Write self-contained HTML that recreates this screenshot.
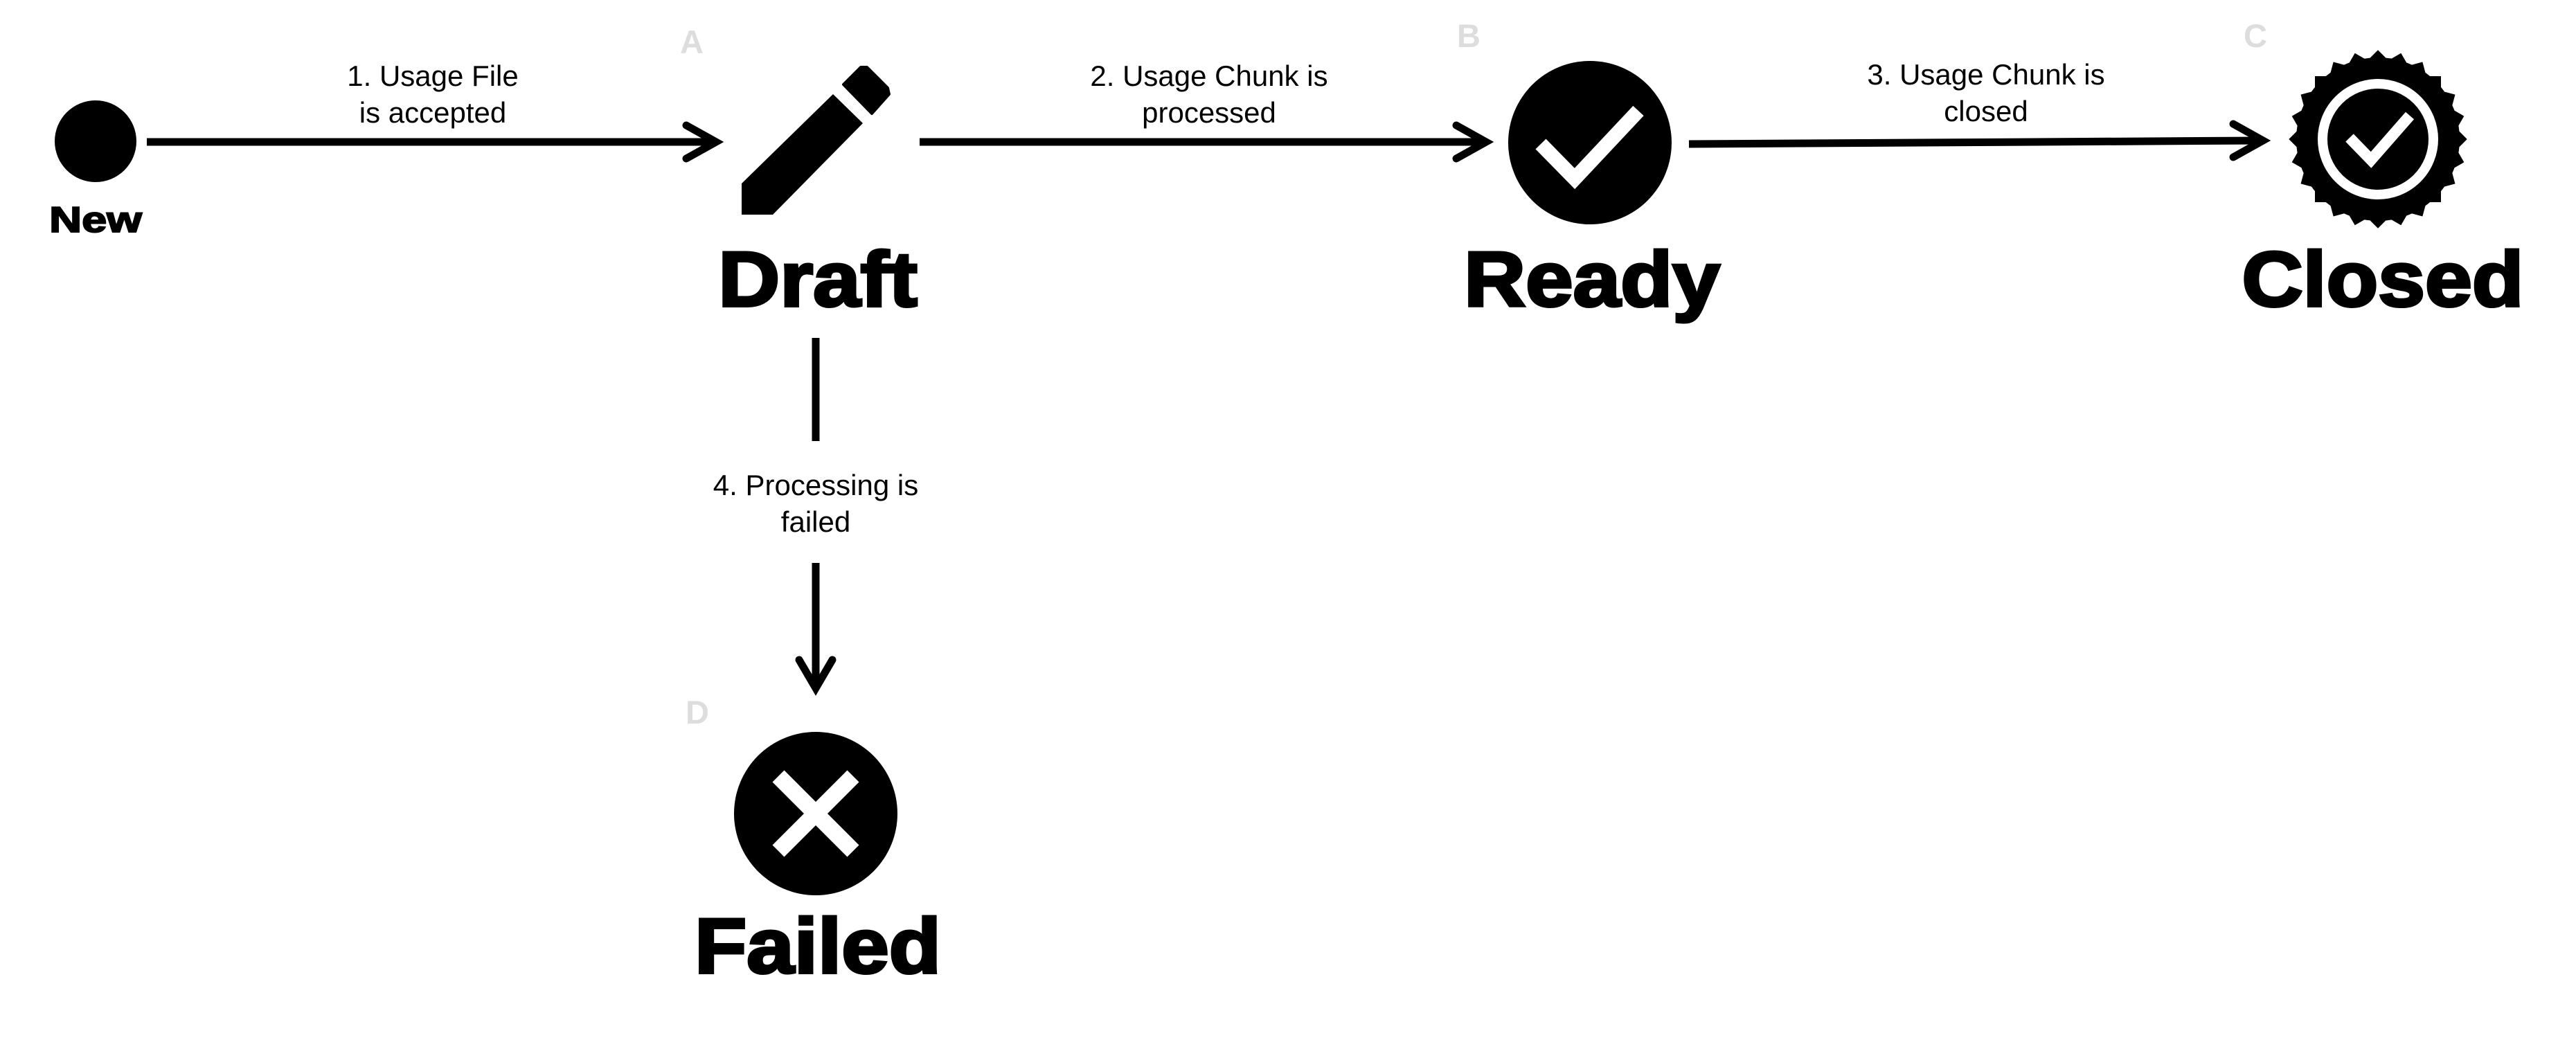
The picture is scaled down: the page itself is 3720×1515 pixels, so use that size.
<!DOCTYPE html>
<html><head><meta charset="utf-8"><style>
html,body{margin:0;padding:0;background:#fff;width:3720px;height:1515px;overflow:hidden}
</style></head><body>
<svg width="3720" height="1515" viewBox="0 0 3720 1515" xmlns="http://www.w3.org/2000/svg">
<g font-family="Liberation Sans, Arial, sans-serif">
<g fill="#dddddd" font-weight="bold" font-size="47">
<text x="982" y="77">A</text>
<text x="2104" y="68">B</text>
<text x="3240" y="68">C</text>
<text x="990" y="1045">D</text>
</g>
<circle cx="138" cy="204" r="59" fill="#000"/>
<text transform="translate(138,335) scale(1.25,1)" text-anchor="middle" font-weight="bold" font-size="52" stroke="#000" stroke-width="2">New</text>
<g stroke="#000" stroke-width="11" fill="none" stroke-linecap="round" stroke-linejoin="miter">
<line x1="212" y1="205" x2="1032" y2="205" stroke-linecap="butt"/>
<polyline points="991,181 1034,205 991,229"/>
<line x1="1328" y1="205" x2="2144" y2="205" stroke-linecap="butt"/>
<polyline points="2103,181 2146,205 2103,229"/>
<line x1="2439" y1="208" x2="3266" y2="203" stroke-linecap="butt"/>
<polyline points="3225,179 3268,203 3225,227"/>
<line x1="1178" y1="488" x2="1178" y2="637" stroke-linecap="butt"/>
<line x1="1178" y1="813" x2="1178" y2="992" stroke-linecap="butt"/>
<polyline points="1154,953 1178,994 1202,953"/>
</g>
<g font-size="42" text-anchor="middle" fill="#000">
<text x="625" y="124">1. Usage File</text>
<text x="625" y="177">is accepted</text>
<text x="1746" y="124">2. Usage Chunk is</text>
<text x="1746" y="177">processed</text>
<text x="2868" y="122">3. Usage Chunk is</text>
<text x="2868" y="175">closed</text>
<text x="1178" y="715">4. Processing is</text>
<text x="1178" y="768">failed</text>
</g>
<polygon points="1071,265 1203,136 1246,178 1116,310 1071,310" fill="#000"/>
<polygon points="1218,122 1243,97 1252,97 1282,127 1284,136 1259,164" fill="#000" stroke="#000" stroke-width="4" stroke-linejoin="round"/>
<circle cx="2296" cy="206" r="118" fill="#000"/>
<polyline points="2225,208 2274,258 2366,160" fill="none" stroke="#fff" stroke-width="21" stroke-linejoin="miter"/>
<g transform="translate(3434,201)" fill="#000">
<circle r="118"/>
<rect x="-91" y="-91" width="182" height="182" transform="rotate(0)"/>
<rect x="-91" y="-91" width="182" height="182" transform="rotate(15)"/>
<rect x="-91" y="-91" width="182" height="182" transform="rotate(30)"/>
<rect x="-91" y="-91" width="182" height="182" transform="rotate(45)"/>
<rect x="-91" y="-91" width="182" height="182" transform="rotate(60)"/>
<rect x="-91" y="-91" width="182" height="182" transform="rotate(75)"/>
<circle r="80" fill="none" stroke="#fff" stroke-width="14"/>
<polyline points="-41,-2 -10,30 46,-34" fill="none" stroke="#fff" stroke-width="16"/>
</g>
<circle cx="1178" cy="1175" r="118" fill="#000"/>
<g stroke="#fff" stroke-width="24">
<line x1="1124" y1="1121" x2="1232" y2="1229"/>
<line x1="1232" y1="1121" x2="1124" y2="1229"/>
</g>
<g font-weight="bold" font-size="112" text-anchor="middle" stroke="#000" stroke-width="4" fill="#000">
<text transform="translate(1181,442) scale(1.1,1)">Draft</text>
<text transform="translate(2299,442) scale(1.1,1)">Ready</text>
<text transform="translate(3441,442) scale(1.09,1)">Closed</text>
<text transform="translate(1181,1405) scale(1.1,1)">Failed</text>
</g>
</g>
</svg>
</body></html>
